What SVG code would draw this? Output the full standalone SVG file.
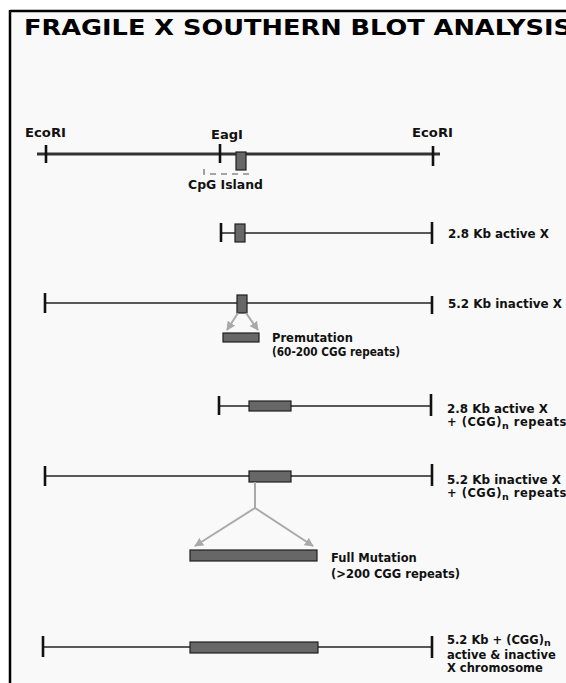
<svg xmlns="http://www.w3.org/2000/svg" width="566" height="683" viewBox="0 0 566 683">
<defs>
<style>
.lbl{font-family:"DejaVu Sans","Liberation Sans",sans-serif;font-weight:bold;font-size:11.5px;fill:#111}
.ttl{font-family:"DejaVu Sans","Liberation Sans",sans-serif;font-weight:bold;font-size:22px;fill:#000}
.dna{stroke:#222;stroke-width:1.6;fill:none}
.tick{stroke:#111;stroke-width:2.6}
.box{fill:#676767;stroke:#1e1e1e;stroke-width:1.2}
.arr{stroke:#a9a9a9;stroke-width:2;fill:none}
.sp{letter-spacing:0.5px}
</style>
<marker id="ah" viewBox="0 0 10 10" refX="9" refY="5" markerWidth="4.5" markerHeight="4.5" orient="auto" markerUnits="strokeWidth">
<path d="M0,0 L10,5 L0,10 Z" fill="#a9a9a9"/>
</marker>
</defs>
<rect x="0" y="0" width="566" height="683" fill="#ffffff"/>
<rect x="10" y="11" width="556" height="672" fill="#f9f9f9"/>
<g id="frame">
<line x1="10" y1="11" x2="566" y2="11" stroke="#000" stroke-width="2.5"/>
<line x1="10" y1="10" x2="10" y2="683" stroke="#000" stroke-width="2.5"/>
</g>
<text id="title" class="ttl" x="24" y="35" textLength="548" lengthAdjust="spacingAndGlyphs">FRAGILE X SOUTHERN BLOT ANALYSIS</text>

<g id="map">
<line x1="37" y1="154" x2="440" y2="154" stroke="#333" stroke-width="3.2"/>
<line class="tick" x1="46" y1="145" x2="46" y2="163"/>
<line class="tick" x1="220" y1="144" x2="220" y2="163"/>
<line class="tick" x1="433" y1="146" x2="433" y2="166"/>
<rect class="box" x="236" y="152" width="10" height="18"/>
<path d="M204,169 V174 H249 V169" fill="none" stroke="#8a8a8a" stroke-width="1.6" stroke-dasharray="6,5"/>
<text class="lbl" x="25" y="137" textLength="41" lengthAdjust="spacingAndGlyphs">EcoRI</text>
<text class="lbl" x="211" y="139" textLength="32" lengthAdjust="spacingAndGlyphs">EagI</text>
<text class="lbl" x="412" y="137" textLength="41" lengthAdjust="spacingAndGlyphs">EcoRI</text>
<text class="lbl" x="188" y="189" textLength="75" lengthAdjust="spacingAndGlyphs">CpG Island</text>
</g>

<g id="row1">
<line class="dna" x1="221" y1="233" x2="432" y2="233"/>
<line class="tick" x1="221" y1="223" x2="221" y2="242"/>
<line class="tick" x1="432" y1="222" x2="432" y2="244"/>
<rect class="box" x="235" y="224" width="10" height="18"/>
<text class="lbl" x="448" y="238" textLength="101" lengthAdjust="spacingAndGlyphs">2.8 Kb active X</text>
</g>

<g id="row2">
<line class="dna" x1="45" y1="303" x2="432" y2="303"/>
<line class="tick" x1="45" y1="293" x2="45" y2="313"/>
<line class="tick" x1="432" y1="296" x2="432" y2="314"/>
<rect class="box" x="237" y="295" width="10" height="18"/>
<text class="lbl" x="448" y="308" textLength="114" lengthAdjust="spacingAndGlyphs">5.2 Kb inactive X</text>
</g>

<g id="premutation">
<rect class="box" x="223" y="333" width="36" height="9"/>
<text class="lbl" x="272" y="342">Premutation</text>
<text class="lbl" x="272" y="356" textLength="128" lengthAdjust="spacingAndGlyphs">(60-200 CGG repeats)</text>
</g>

<g id="row3">
<line class="dna" x1="219" y1="406" x2="431" y2="406"/>
<line class="tick" x1="219" y1="396" x2="219" y2="415"/>
<line class="tick" x1="431" y1="394" x2="431" y2="416"/>
<rect class="box" x="249" y="401" width="42" height="10"/>
<text class="lbl" x="447" y="413" textLength="101" lengthAdjust="spacingAndGlyphs">2.8 Kb active X</text>
<text class="lbl sp" x="447" y="426">+ (CGG)<tspan font-size="9.5" dy="3">n</tspan><tspan dy="-3"> repeats</tspan></text>
</g>

<g id="row4">
<line class="dna" x1="45" y1="476" x2="432" y2="476"/>
<line class="tick" x1="45" y1="466" x2="45" y2="486"/>
<line class="tick" x1="432" y1="464" x2="432" y2="486"/>
<rect class="box" x="249" y="471" width="42" height="11"/>
<text class="lbl" x="447" y="484" textLength="114" lengthAdjust="spacingAndGlyphs">5.2 Kb inactive X</text>
<text class="lbl sp" x="447" y="497">+ (CGG)<tspan font-size="9.5" dy="3">n</tspan><tspan dy="-3"> repeats</tspan></text>
</g>

<g id="fullmutation">
<rect class="box" x="190" y="550" width="127" height="11"/>
<text class="lbl" x="331" y="562">Full Mutation</text>
<text class="lbl" x="331" y="578">(&gt;200 CGG repeats)</text>
</g>

<g id="row5">
<line class="dna" x1="43" y1="647" x2="432" y2="647"/>
<line class="tick" x1="43" y1="636" x2="43" y2="657"/>
<line class="tick" x1="432" y1="636" x2="432" y2="658"/>
<rect class="box" x="190" y="642" width="128" height="11"/>
<text class="lbl" x="447" y="644">5.2 Kb + (CGG)<tspan font-size="9.5" dy="2">n</tspan></text>
<text class="lbl" x="447" y="659">active &amp; inactive</text>
<text class="lbl" x="447" y="672">X chromosome</text>
</g>

<g id="connectors">
<line class="arr" x1="238" y1="313" x2="227" y2="330" marker-end="url(#ah)"/>
<line class="arr" x1="246" y1="313" x2="258" y2="330" marker-end="url(#ah)"/>
<line class="arr" x1="255" y1="482" x2="255" y2="508"/>
<line class="arr" x1="255" y1="508" x2="195" y2="546" marker-end="url(#ah)"/>
<line class="arr" x1="255" y1="508" x2="313" y2="546" marker-end="url(#ah)"/>
</g>
</svg>
